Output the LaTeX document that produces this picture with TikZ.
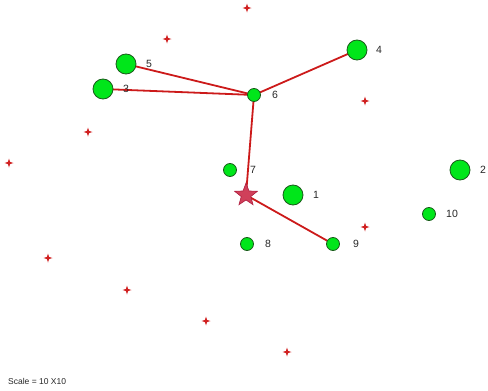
\documentclass[tikz,border=0pt]{standalone}
\usepackage{fontspec}
\setmainfont{Liberation Sans}
\usetikzlibrary{shapes.geometric}
\definecolor{nodegreen}{HTML}{00E61A}
\definecolor{nodeedge}{HTML}{1A5A1A}
\definecolor{linered}{HTML}{CC1A1A}
\definecolor{starfill}{HTML}{D0405A}
\definecolor{staredge}{HTML}{B02040}
\definecolor{smallstar}{HTML}{D02020}
\begin{document}
\begin{tikzpicture}[x=1pt,y=-1pt,
  big/.style={circle,fill=nodegreen,draw=nodeedge,line width=0.8pt,minimum size=20pt,inner sep=0pt},
  small/.style={circle,fill=nodegreen,draw=nodeedge,line width=0.8pt,minimum size=13pt,inner sep=0pt},
  lbl/.style={font=\fontsize{10.5}{12}\selectfont,text=black!85,inner sep=0pt,anchor=west},
  conn/.style={draw=linered,line width=1.8pt},
  sstar/.style={star,star points=4,star point ratio=3,fill=smallstar,draw=none,minimum size=9pt,inner sep=0pt}
]
\useasboundingbox (0,0) rectangle (488,391);
% connectors first (under nodes)
\coordinate (p5) at (126,64);
\coordinate (p3) at (103,89);
\coordinate (p6) at (254,95);
\coordinate (p4) at (357,50);
\coordinate (pS) at (246,195);
\coordinate (p9) at (333,244);
\draw[conn] (p5) -- (p6);
\draw[conn] (p3) -- (p6);
\draw[conn] (p4) -- (p6);
\draw[conn] (p6) -- (pS);
\draw[conn] (pS) -- (p9);
% nodes
\node[big] (n5) at (p5) {};
\node[big] (n3) at (p3) {};
\node[small] (n6) at (p6) {};
\node[big] (n4) at (p4) {};
\node[small] (n7) at (230,170) {};
\node[big] (n1) at (293,195) {};
\node[big] (n2) at (460,170) {};
\node[small] (n10) at (429,214) {};
\node[small] (n8) at (247,244) {};
\node[small] (n9) at (p9) {};
\node[star,star points=5,star point ratio=2.4,fill=starfill,draw=staredge,line width=0.6pt,minimum size=24pt,inner sep=0pt] (ns) at (pS) {};
% labels
\node[lbl] (l5) at (146,64) {5};
\node[lbl] (l3) at (123,89) {3};
\node[lbl] (l6) at (272,95) {6};
\node[lbl] (l4) at (376,50) {4};
\node[lbl] (l7) at (250,170) {7};
\node[lbl] (l1) at (313,195) {1};
\node[lbl] (l2) at (480,170) {2};
\node[lbl] (l10) at (446,214) {10};
\node[lbl] (l8) at (265,244) {8};
\node[lbl] (l9) at (353,244) {9};
% small stars
\node[sstar] (s1) at (247,8) {};
\node[sstar] (s2) at (167,39) {};
\node[sstar] (s3) at (365,101) {};
\node[sstar] (s4) at (88,132) {};
\node[sstar] (s5) at (9,163) {};
\node[sstar] (s6) at (365,227) {};
\node[sstar] (s7) at (48,258) {};
\node[sstar] (s8) at (127,290) {};
\node[sstar] (s9) at (206,321) {};
\node[sstar] (s10) at (287,352) {};
% scale text
\node[font=\fontsize{8.5}{10}\selectfont,text=black!85,inner sep=0pt,anchor=west] (sc) at (8,381) {Scale = 10 X10};
\end{tikzpicture}
\end{document}
